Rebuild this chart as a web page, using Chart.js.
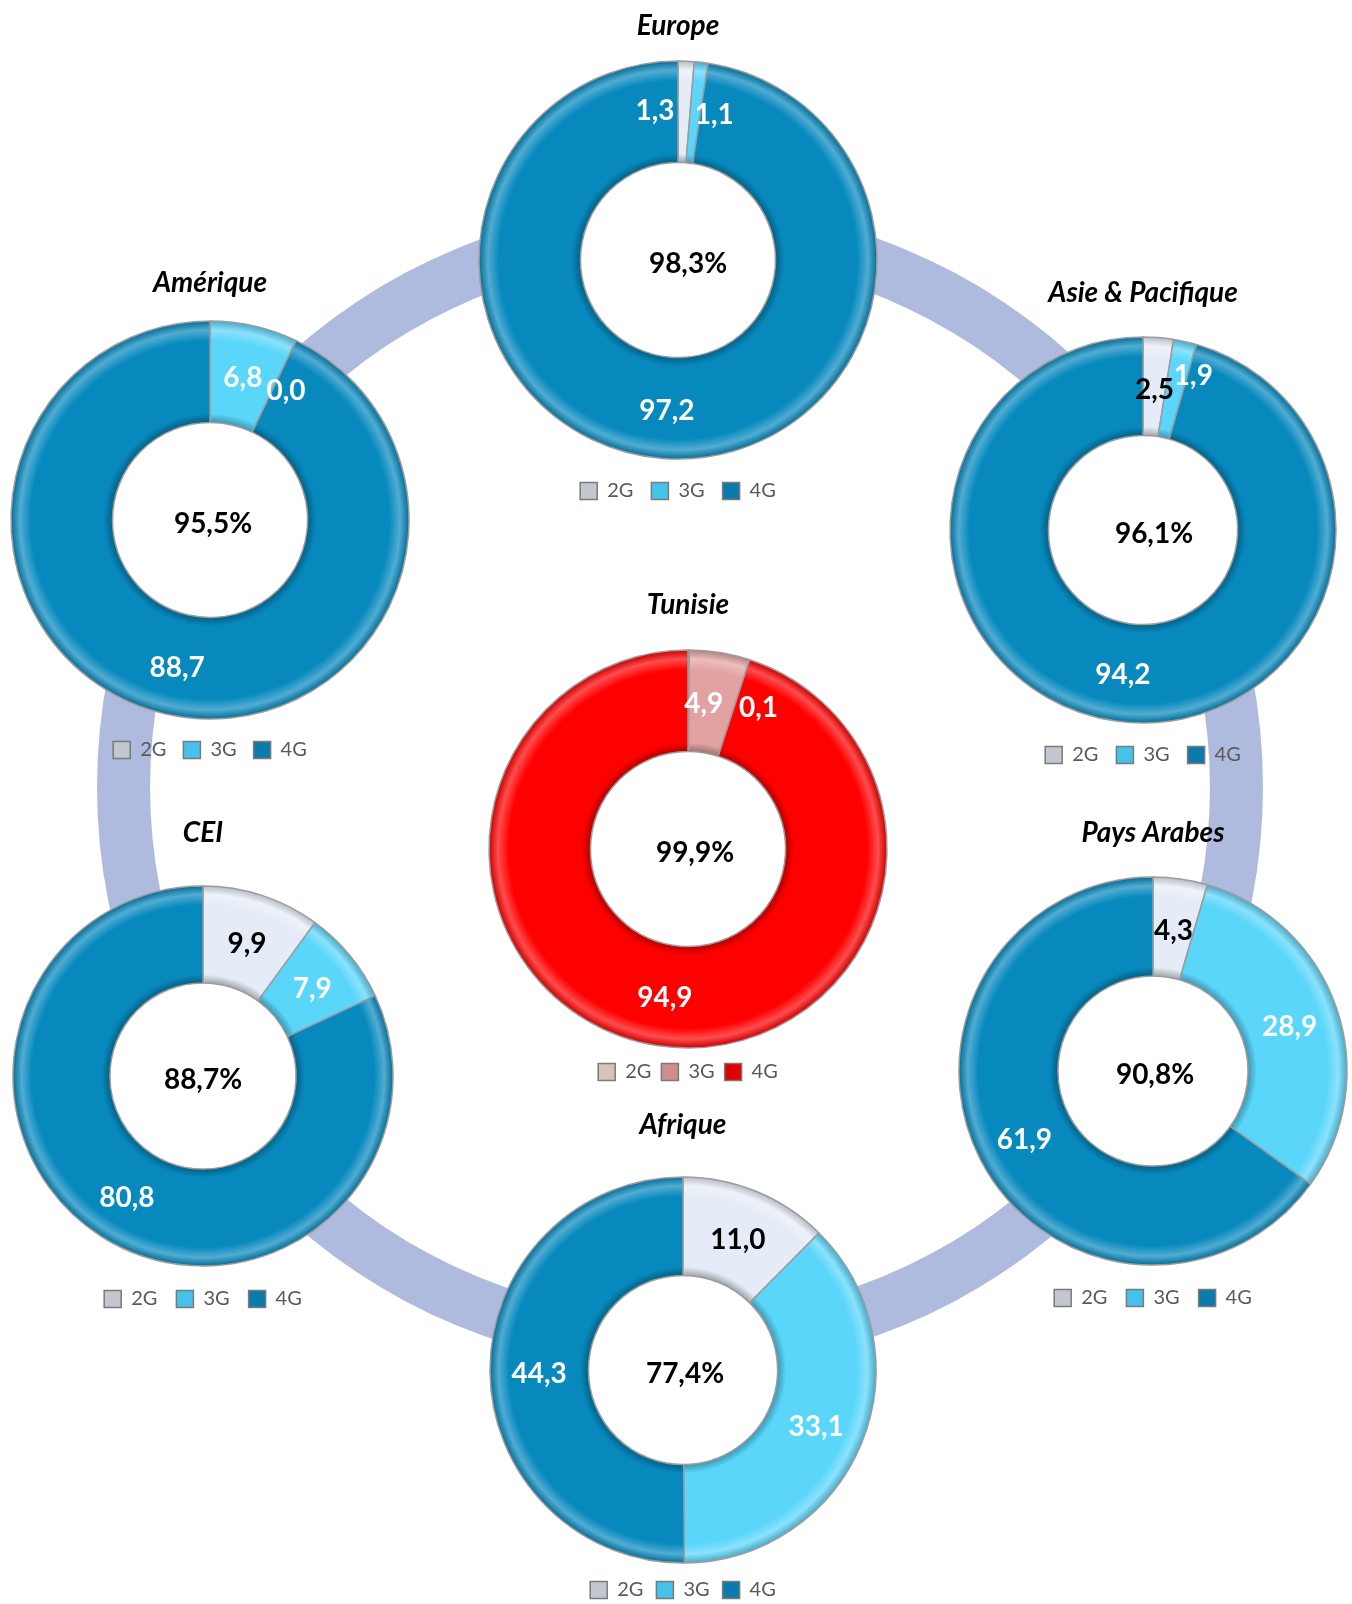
<!DOCTYPE html>
<html lang="fr">
<head>
<meta charset="utf-8">
<title>Part 3G/4G par région</title>
<script src="https://cdn.jsdelivr.net/npm/chart.js@4.4.1/dist/chart.umd.min.js"></script>
<style>
  html, body { margin: 0; padding: 0; background: #fff; }
  #page { position: relative; width: 1352px; height: 1604px; overflow: hidden; }
  .box { position: absolute; }
</style>
</head>
<body>
<div id="page"></div>
<script>
// données (en %)
const regions = ['Europe', 'Asie & Pacifique', 'Amérique', 'Tunisie', 'CEI', 'Pays Arabes', 'Afrique'];
const generations = ['2G', '3G', '4G'];
const part2G = [1.3, 2.5, 0.0, 0.1, 9.9, 4.3, 11.0];
const part3G = [1.1, 1.9, 6.8, 4.9, 7.9, 28.9, 33.1];
const part4G = [97.2, 94.2, 88.7, 94.9, 80.8, 61.9, 44.3];
const total3G4G = [98.3, 96.1, 95.5, 99.9, 88.7, 90.8, 77.4];

// couleurs
const bleu = ['#E6ECF7', '#5AD6FA', '#0789BE'];
const bleuLegende = ['#C3C8D0', '#45C2EA', '#0A7BAB'];
const rouge = ['#EBD6CF', '#E3A2A2', '#FF0000'];
const rougeLegende = ['#D6C4BD', '#CF8E8E', '#E00000'];
const couleurAnneau = '#AFBBDE';

const FONT = 'Lato, "Open Sans", "DejaVu Sans", sans-serif';
Chart.defaults.font.family = FONT;

// placement de chaque anneau : centre, rayon, titre, légende
const placement = [
  { cx: 678, cy: 260, r: 199, ty: 26, ly: 491, cdx: 10 },
  { cx: 1143, cy: 530, r: 193, ty: 293, ly: 755, cdx: 11 },
  { cx: 210, cy: 520, r: 199, ty: 283, ly: 750, cdx: 3 },
  { cx: 688, cy: 849, r: 199, ty: 605, ly: 1072, cdx: 7 },
  { cx: 203, cy: 1076, r: 190, ty: 833, ly: 1299, cdx: 0 },
  { cx: 1153, cy: 1071, r: 194, ty: 833, ly: 1298, cdx: 2 },
  { cx: 683, cy: 1370, r: 193, ty: 1125, ly: 1590, cdx: 2 },
];
// petits décalages des étiquettes pour les tranches trop fines
const decalages = {
  0: { 0: [-29, -4], 1: [19, -1] },
  1: { 1: [19, -17] },
  2: { 0: [76, 16] },
  3: { 0: [70, 4], 1: [-8, -2] },
};
const CUT = 0.49;
const TEXT_DY = 3;

const page = document.getElementById('page');

function fmt(v) {
  return v.toFixed(1).replace('.', ',');
}

function mix(hex, to, t) {
  const a = parseInt(hex.slice(1), 16), b = parseInt(to.slice(1), 16);
  const ch = (s) => Math.round(((a >> s) & 255) * (1 - t) + ((b >> s) & 255) * t);
  return `rgb(${ch(16)},${ch(8)},${ch(0)})`;
}

// effet biseau approximatif avec un dégradé radial
function biseau(pal, r) {
  return (c) => {
    const base = pal[c.dataIndex] || pal[0];
    const area = c.chart.chartArea;
    if (!area) return base;
    const x = (area.left + area.right) / 2, y = (area.top + area.bottom) / 2;
    const g = c.chart.ctx.createRadialGradient(x, y, 0, x, y, r);
    g.addColorStop(0, base);
    g.addColorStop(CUT, mix(base, '#000000', 0.3));
    g.addColorStop(CUT + 0.045, base);
    g.addColorStop(0.9, base);
    g.addColorStop(0.955, mix(base, '#ffffff', 0.3));
    g.addColorStop(1, mix(base, '#000000', 0.2));
    return g;
  };
}

function addBox(x, y, w, h, z) {
  const div = document.createElement('div');
  div.className = 'box';
  div.style.left = x + 'px';
  div.style.top = y + 'px';
  div.style.width = w + 'px';
  div.style.height = h + 'px';
  div.style.zIndex = z;
  const cv = document.createElement('canvas');
  div.appendChild(cv);
  page.appendChild(div);
  return cv;
}

const fondBlanc = {
  id: 'fondBlanc',
  beforeDatasetsDraw(chart) {
    const arc = chart.getDatasetMeta(0).data[0];
    if (!arc) return;
    const ctx = chart.ctx;
    ctx.save();
    ctx.fillStyle = '#fff';
    ctx.beginPath();
    ctx.arc(arc.x, arc.y, arc.outerRadius, 0, Math.PI * 2);
    ctx.fill();
    ctx.restore();
  }
};

const etiquettes = {
  id: 'etiquettes',
  afterDatasetsDraw(chart, args, opts) {
    const ctx = chart.ctx;
    const meta = chart.getDatasetMeta(0);
    const values = chart.data.datasets[0].data;
    ctx.save();
    ctx.font = `bold 28px ${FONT}`;
    ctx.textAlign = 'center';
    ctx.textBaseline = 'middle';
    meta.data.forEach((arc, i) => {
      const a = (arc.startAngle + arc.endAngle) / 2;
      const rr = (arc.innerRadius + arc.outerRadius) / 2;
      const d = (opts.nudge && opts.nudge[i]) || [0, 0];
      ctx.fillStyle = (opts.darkFirst && i === 0 && values[i] >= 2) ? '#000' : '#fff';
      ctx.fillText(fmt(values[i]), arc.x + Math.cos(a) * rr + d[0], arc.y + Math.sin(a) * rr + d[1] + TEXT_DY);
    });
    const c = meta.data[0];
    ctx.fillStyle = '#000';
    ctx.fillText(fmt(opts.centre) + '%', c.x + opts.cdx, c.y + TEXT_DY + 1);
    ctx.restore();
  }
};

// grand anneau de fond
new Chart(addBox(0, 0, 1352, 1604, 0), {
  type: 'doughnut',
  data: { labels: [''], datasets: [{ data: [1], backgroundColor: couleurAnneau, borderWidth: 0 }] },
  options: {
    responsive: true, maintainAspectRatio: false, animation: false,
    radius: 583, cutout: '90.9%',
    layout: { padding: { left: 8, right: 0, top: 0, bottom: 30 } },
    plugins: { legend: { display: false }, tooltip: { enabled: false } },
    events: []
  }
});

regions.forEach((nom, k) => {
  const L = placement[k];
  const tunisie = nom === 'Tunisie';
  const pal = tunisie ? rouge : bleu;
  const leg = tunisie ? rougeLegende : bleuLegende;
  const A = L.r + 4;
  const top = Math.round(L.ty - 16.8);
  const tb = (L.cy - A) - top - 33.6;
  const p = L.ly - L.cy - A - 10;
  const w = 2 * L.r + 24;
  const h = (L.cy + A + 30 + p) - top;
  const cv = addBox(Math.round(L.cx - w / 2), top, w, h, 1);

  new Chart(cv, {
    type: 'doughnut',
    data: {
      labels: generations,
      datasets: [{
        data: [part2G[k], part3G[k], part4G[k]],
        backgroundColor: biseau(pal, L.r),
        borderColor: '#9c9c9c',
        borderWidth: 1.5
      }]
    },
    options: {
      responsive: true, maintainAspectRatio: false, animation: false,
      radius: L.r, cutout: (CUT * 100) + '%',
      events: [],
      plugins: {
        title: {
          display: true, text: nom, color: '#000',
          font: { size: 28, weight: 'bold', style: 'italic' },
          padding: { top: 0, bottom: tb }
        },
        legend: {
          position: 'bottom',
          labels: {
            boxWidth: 17, boxHeight: 17, padding: p, color: '#595959',
            font: { size: 20 },
            generateLabels: () => generations.map((g, i) => ({
              text: g, fillStyle: leg[i], strokeStyle: '#7a7a7a', lineWidth: 1.5,
              fontColor: '#595959', hidden: false, index: i
            }))
          }
        },
        tooltip: { enabled: false },
        etiquettes: {
          nudge: decalages[k], darkFirst: !tunisie, centre: total3G4G[k], cdx: L.cdx
        }
      }
    },
    plugins: [fondBlanc, etiquettes]
  });
});
</script>
</body>
</html>
